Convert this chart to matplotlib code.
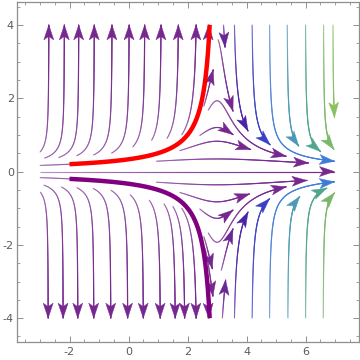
import numpy as np
import matplotlib
matplotlib.use('Agg')
import matplotlib.pyplot as plt
from matplotlib.collections import LineCollection
from matplotlib.patches import Polygon
from matplotlib.colors import LinearSegmentedColormap, to_rgba

plt.rcParams['axes.unicode_minus'] = False

# Direction field  x' = 1,  y' = (3 - x) y^3
def field(x, y):
    return 1.0, (3.0 - x) * y ** 3

# Streams: start x, start y, x where the stream stops (it also stops at |y| = 4)
stream_x0 = [-3.0, -2.85, -2.37, -1.76, -1.19, -0.58, 0.14, 0.78, 1.3, 1.8, -3.0,
             -3.0, 0.94, 1.73, 2.41, 2.7, 2.55, 3.03, 3.22,
             3.59, 4.19, 4.78, 5.38, 6.0, 6.61, 6.93,
             -2.99, -2.87, -2.28, -1.75, -1.2, -0.6, 0.05, 0.7, 1.2, 1.5, 1.8, -3.0,
             0.94, 1.73, 2.41, 2.7, 2.55, 2.6, 3.18, 3.14,
             3.59, 4.19, 4.78, 5.4, 6.0, 6.6]
stream_y0 = [0.53, 0.365, 0.38, 0.43, 0.45, 0.5, 0.67, 0.85, 0.9, 1.0, 0.1667,
             0.0, 0.28, 0.57, 0.98, 1.67, 1.78, 3.6, 4.0,
             4.0, 4.0, 4.0, 4.0, 4.0, 4.0, 4.0,
             -0.56, -0.37, -0.42, -0.44, -0.46, -0.51, -0.63, -0.78, -0.88, -0.95, -1.0, -0.1667,
             -0.29, -0.57, -1.02, -1.67, -1.77, -2.1, -4.0, -2.7,
             -4.0, -4.0, -4.0, -4.0, -4.0, -4.0]
stream_x1 = [7, 7, 7, 7, 7, 7, 7, 7, 7, 7, 7,
             6.98, 6.1, 4.14, 3.54, 5.34, 2.87, 3.54, 3.27,
             4.05, 4.8, 6.98, 5.77, 6.51, 6.96, 6.98,
             7, 7, 7, 7, 7, 7, 7, 7, 7, 7, 7, 7,
             6.05, 4.1, 3.54, 5.34, 2.84, 2.86, 3.29, 3.54,
             4.05, 4.78, 6.98, 5.8, 6.72, 6.98]

# Highlighted solutions y(-2) = 0.2 and y(-2) = -0.2
sol_x0 = [-2.0, -2.0]
sol_y0 = [0.2, -0.2]
sol_colors = ['#ff0000', '#800080']

xlim = (-3.77, 7.82)
ylim = (-4.66, 4.63)

stream_cmap = LinearSegmentedColormap.from_list(
    'streams',
    [(0.0, '#76288f'), (0.15, '#4b23a8'), (0.3, '#3a3fc8'), (0.45, '#3f7fd8'),
     (0.6, '#4a9ab5'), (0.75, '#4fa58f'), (0.9, '#78b86c'), (1.0, '#8fc25e')])

fig = plt.figure(figsize=(3.6, 3.6), dpi=100)
ax = fig.add_axes([0.048, 0.049, 0.95, 0.946])
ax.set_xlim(*xlim)
ax.set_ylim(*ylim)

# pixels per data unit
px_x = ax.get_position().width * 360 / (xlim[1] - xlim[0])
px_y = ax.get_position().height * 360 / (ylim[1] - ylim[0])


def trace(x0, y0, x_end, h=0.4):
    def d(x, y):
        u, v = field(x, y)
        u, v = u * px_x, v * px_y
        n = np.hypot(u, v)
        return u / n / px_x, v / n / px_y
    xs, ys = [x0], [y0]
    x, y = x0, y0
    for _ in range(20000):
        k1 = d(x, y)
        k2 = d(x + h / 2 * k1[0], y + h / 2 * k1[1])
        k3 = d(x + h / 2 * k2[0], y + h / 2 * k2[1])
        k4 = d(x + h * k3[0], y + h * k3[1])
        nx = x + h / 6 * (k1[0] + 2 * k2[0] + 2 * k3[0] + k4[0])
        ny = y + h / 6 * (k1[1] + 2 * k2[1] + 2 * k3[1] + k4[1])
        if nx >= x_end:
            t = (x_end - x) / (nx - x)
            xs.append(x_end); ys.append(y + t * (ny - y))
            break
        if abs(ny) >= 4.0 and abs(ny) > abs(y):
            lim = np.sign(ny) * 4.0
            t = (lim - y) / (ny - y)
            xs.append(x + t * (nx - x)); ys.append(lim)
            break
        x, y = nx, ny
        xs.append(x); ys.append(y)
    return np.array(xs), np.array(ys)


def arrowhead(xs, ys, color, length=15, width=10, notch=3.5):
    tr = ax.transData
    pts = tr.transform(np.column_stack([xs, ys]))
    tip = pts[-1]
    # direction from a point a few pixels back
    dist = np.hypot(*(pts - tip).T)
    idx = np.where(dist >= 4)[0]
    back = pts[idx[-1]] if len(idx) else pts[0]
    u = (tip - back) / np.hypot(*(tip - back))
    n = np.array([-u[1], u[0]])
    base = tip - length * u
    poly = np.array([tip, base + width / 2 * n, tip - (length - notch) * u,
                     base - width / 2 * n])
    poly = tr.inverted().transform(poly)
    ax.add_patch(Polygon(poly, closed=True, facecolor=color, edgecolor=color,
                         lw=0.3, zorder=4))


for x0, y0, x1 in zip(stream_x0, stream_y0, stream_x1):
    xs, ys = trace(x0, y0, x1)
    c = stream_cmap(np.clip((x0 - 3.0) / 4.0, 0, 1))
    segs = np.stack([np.column_stack([xs[:-1], ys[:-1]]),
                     np.column_stack([xs[1:], ys[1:]])], axis=1)
    alpha = np.linspace(0.3, 0.95, len(segs))
    cols = np.array([to_rgba(c, a) for a in alpha])
    ax.add_collection(LineCollection(segs, colors=cols, linewidths=0.85,
                                     capstyle='round', zorder=2))
    arrowhead(xs, ys, c)

for x0, y0, col in zip(sol_x0, sol_y0, sol_colors):
    xs, ys = trace(x0, y0, 7.0)
    ax.plot(xs, ys, color=col, lw=3.2, solid_capstyle='butt', zorder=5)

frame_col = '#8f8f8f'
for s in ax.spines.values():
    s.set_color(frame_col)
    s.set_linewidth(0.9)
ax.set_xticks([-2, 0, 2, 4, 6])
ax.set_yticks([-4, -2, 0, 2, 4])
ax.xaxis.set_minor_locator(matplotlib.ticker.MultipleLocator(0.5))
ax.yaxis.set_minor_locator(matplotlib.ticker.MultipleLocator(0.5))
ax.tick_params(which='both', direction='in', top=True, right=True,
               color=frame_col, labelcolor='#5a5a5a', labelsize=8)
ax.tick_params(which='major', length=4.5, width=0.7)
ax.tick_params(which='minor', length=2.5, width=0.6)
ax.tick_params(axis='x', pad=3)
ax.tick_params(axis='y', pad=2.5)

fig.savefig('out.png', dpi=100)
